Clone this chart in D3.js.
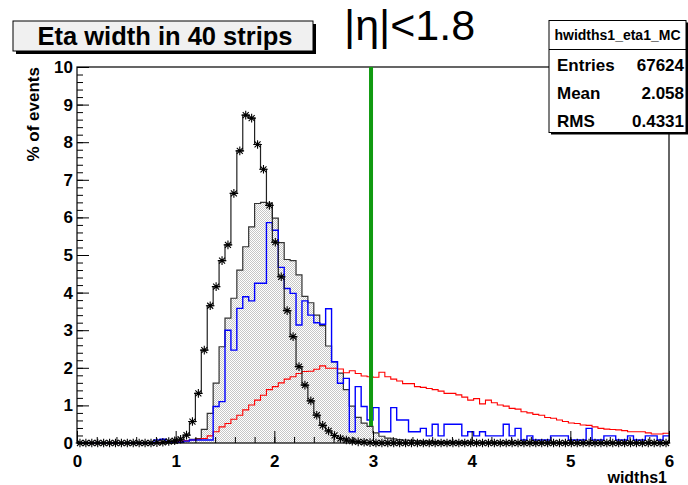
<!DOCTYPE html>
<html><head><meta charset="utf-8">
<script src="https://cdn.jsdelivr.net/npm/d3@7/dist/d3.min.js"></script>
<style>
body{margin:0;background:#fff}
svg{display:block}
text{font-family:"Liberation Sans",Arial,Helvetica,sans-serif}
</style>
</head><body>
<svg id="c" width="688" height="485"></svg>
<script>
// ---- histogram data: 100 bins of width 0.06 over [0, 6], values in % of events
const binWidth = 0.06;
const xDomain = [0, 6];
const yDomain = [0, 10];
const xMajorTicks = [0, 1, 2, 3, 4, 5, 6];
const yMajorTicks = [0, 1, 2, 3, 4, 5, 6, 7, 8, 9, 10];

// black histogram drawn with star markers
const starValues = [
  0,0,0,0,0,0,0,0,0,0,
  0,0,0,0.01,0.02,0.04,0.06,0.1,0.21,0.57,
  1.32,2.47,3.65,4.16,4.85,5.27,6.64,7.77,8.72,8.64,
  7.94,7.28,6.32,5.34,4.42,3.52,2.83,2.03,1.54,1.12,
  0.74,0.47,0.32,0.2,0.12,0.08,0.05,0.03,0.02,0.01,
  0,0,0,0,0,0,0,0,0,0,
  0,0,0,0,0,0,0,0,0,0,
  0,0,0,0,0,0,0,0,0,0,
  0,0,0,0,0,0,0,0,0,0,
  0,0,0,0,0,0,0,0,0,0
];
// grey hatched histogram (hwidths1_eta1_MC)
const mcValues = [
  0,0,0,0,0,0,0,0,0,0,
  0,0,0,0,0,0,0,0.03,0.06,0.1,
  0.12,0.36,0.79,1.59,2.56,3.32,3.85,4.6,5.22,5.75,
  6.37,6.4,6.38,5.98,5.33,4.88,4.85,4.47,3.9,3.73,
  3.4,3.12,2.58,2.16,1.86,1.42,0.98,0.68,0.53,0.44,
  0.27,0.18,0.13,0.11,0.09,0.08,0.07,0.06,0.05,0.05,
  0.04,0.03,0.03,0.03,0.03,0.03,0.02,0.02,0.02,0.02,
  0.02,0.02,0.02,0.02,0.02,0.02,0.02,0.02,0.02,0.02,
  0.02,0.01,0.01,0.01,0.01,0.01,0.01,0.01,0.01,0.01,
  0.01,0.01,0.01,0.01,0.01,0.01,0.01,0.01,0.01,0.01
];
// blue histogram
const blueValues = [
  0,0,0,0,0,0,0,0,0,0,
  0,0,0,0.08,0.1,0.03,0.02,0.02,0.05,0.08,
  0.08,0.08,0.08,0.97,1.1,3.0,2.47,3.58,3.89,3.78,
  4.25,4.25,5.86,5.66,4.67,4.11,3.98,3.14,3.78,3.4,
  3.2,3.16,3.57,2.16,1.59,1.72,0.3,1.5,0.97,0.61,
  0.94,0.3,0.3,0.94,0.61,0.61,0.3,0.3,0.39,0.19,
  0.5,0.19,0.5,0.5,0.5,0.19,0.3,0.19,0.3,0.19,
  0.19,0.19,0.5,0.19,0.39,0.08,0.19,0.08,0.08,0.08,
  0.19,0.19,0.19,0.08,0.08,0.08,0.39,0.08,0.08,0.19,
  0.19,0.08,0.08,0.19,0.08,0.08,0.19,0.19,0.08,0.19
];
// red histogram
const redValues = [
  0,0,0,0,0,0,0,0,0,0,
  0,0,0,0,0.02,0.03,0.04,0.05,0.06,0.08,
  0.1,0.12,0.19,0.3,0.43,0.52,0.63,0.74,0.88,1.01,
  1.14,1.27,1.42,1.5,1.6,1.7,1.76,1.85,1.9,1.91,
  1.96,2.05,1.99,1.99,1.97,1.87,1.92,1.85,1.78,1.76,
  1.75,1.88,1.76,1.7,1.65,1.58,1.58,1.5,1.48,1.45,
  1.42,1.38,1.32,1.32,1.28,1.22,1.14,1.18,1.04,1.14,
  1.07,1.01,0.98,0.92,0.9,0.83,0.8,0.76,0.74,0.68,
  0.66,0.61,0.57,0.53,0.52,0.48,0.47,0.43,0.39,0.37,
  0.36,0.35,0.33,0.3,0.3,0.3,0.27,0.24,0.24,0.26
];

// vertical cut line
const cutX = 2.98;
const cutRange = [0.45, 10];

const titleText = "Eta width in 40 strips";
const regionText = "|\u03b7|<1.8";
const statsName = "hwidths1_eta1_MC";
const statsLabels = ["Entries", "Mean", "RMS"];
const statsValues = ["67624", "2.058", "0.4331"];
const xTitle = "widths1";
const yTitle = "% of events";

// ---- layout
const frame = {left: 77, right: 669, top: 67, bottom: 443};
const svg = d3.select("#c");

const x = d3.scaleLinear().domain(xDomain).range([frame.left, frame.right]);
const y = d3.scaleLinear().domain(yDomain).range([frame.bottom, frame.top]);

// dotted fill pattern for the grey histogram
const defs = svg.append("defs");
const pat = defs.append("pattern").attr("id", "dots")
  .attr("patternUnits", "userSpaceOnUse").attr("width", 2).attr("height", 2);
pat.append("rect").attr("width", 2).attr("height", 2).attr("fill", "#fff");
pat.append("rect").attr("x", 0).attr("y", 0).attr("width", 1).attr("height", 1).attr("fill", "#c6c6c6");
pat.append("rect").attr("x", 1).attr("y", 1).attr("width", 1).attr("height", 1).attr("fill", "#c6c6c6");

function binPoints(vals) {
  const pts = vals.map((v, i) => ({x: i * binWidth, v}));
  pts.push({x: vals.length * binWidth, v: vals[vals.length - 1]});
  return pts;
}
const stepLine = d3.line().x(d => x(d.x)).y(d => y(d.v)).curve(d3.curveStepAfter);
const stepArea = d3.area().x(d => x(d.x)).y0(y(0)).y1(d => y(d.v)).curve(d3.curveStepAfter);

const plot = svg.append("g");

// grey filled histogram
plot.append("path").datum(binPoints(mcValues))
  .attr("d", stepArea).attr("fill", "url(#dots)");
plot.append("path").datum(binPoints(mcValues))
  .attr("d", stepLine).attr("fill", "none").attr("stroke", "#333").attr("stroke-width", 1.2);

// red and blue histograms
plot.append("path").datum(binPoints(redValues))
  .attr("d", stepLine).attr("fill", "none").attr("stroke", "#ff0000").attr("stroke-width", 1.1);
plot.append("path").datum(binPoints(blueValues))
  .attr("d", stepLine).attr("fill", "none").attr("stroke", "#0000ff").attr("stroke-width", 1.4);

// star histogram: step line plus asterisk markers at bin centres
plot.append("path").datum(binPoints(starValues))
  .attr("d", stepLine).attr("fill", "none").attr("stroke", "#222").attr("stroke-width", 1.2);
const star = "M-4.3,0H4.3M0,-4.3V4.3M-3,-3L3,3M-3,3L3,-3";
plot.selectAll("path.star").data(starValues).enter().append("path")
  .attr("class", "star")
  .attr("transform", (v, i) => `translate(${x((i + 0.5) * binWidth)},${y(v)})`)
  .attr("d", star).attr("stroke", "#000").attr("stroke-width", 1.1).attr("fill", "none");

// axes with ticks pointing into the frame
const fontAxis = "bold 17px 'Liberation Sans', Arial, sans-serif";
const xMinor = d3.range(0, 6.0001, 0.2);
const yMinor = d3.range(0, 10.0001, 0.2);

svg.append("g").attr("transform", `translate(0,${frame.bottom})`)
  .call(d3.axisBottom(x).tickValues(xMinor).tickSize(-6).tickFormat(""))
  .call(g => g.select(".domain").remove())
  .call(g => g.selectAll("line").attr("stroke", "#000"));
svg.append("g").attr("transform", `translate(0,${frame.bottom})`)
  .call(d3.axisBottom(x).tickValues(xMajorTicks).tickSize(-12).tickPadding(12).tickFormat(d3.format("d")))
  .call(g => g.select(".domain").remove())
  .call(g => g.selectAll("line").attr("stroke", "#000"))
  .call(g => g.selectAll("text").attr("fill", "#000").style("font", fontAxis));

svg.append("g").attr("transform", `translate(${frame.left},0)`)
  .call(d3.axisLeft(y).tickValues(yMinor).tickSize(-6).tickFormat(""))
  .call(g => g.select(".domain").remove())
  .call(g => g.selectAll("line").attr("stroke", "#000"));
svg.append("g").attr("transform", `translate(${frame.left},0)`)
  .call(d3.axisLeft(y).tickValues(yMajorTicks).tickSize(-12).tickPadding(4).tickFormat(d3.format("d")))
  .call(g => g.select(".domain").remove())
  .call(g => g.selectAll("line").attr("stroke", "#000"))
  .call(g => g.selectAll("text").attr("fill", "#000").style("font", fontAxis));

// frame
svg.append("rect").attr("x", frame.left).attr("y", frame.top)
  .attr("width", frame.right - frame.left).attr("height", frame.bottom - frame.top)
  .attr("fill", "none").attr("stroke", "#000").attr("stroke-width", 1.2);

// cut line
svg.append("line")
  .attr("x1", x(cutX)).attr("x2", x(cutX)).attr("y1", y(cutRange[0])).attr("y2", y(cutRange[1]))
  .attr("stroke", "#109a10").attr("stroke-width", 4);

// axis titles
svg.append("text").attr("x", 667).attr("y", 483)
  .attr("text-anchor", "end").style("font", "bold 16px 'Liberation Sans', Arial, sans-serif").text(xTitle);
svg.append("text").attr("transform", `translate(39,${frame.top}) rotate(-90)`)
  .attr("text-anchor", "end").style("font", fontAxis).text(yTitle);

// title box with shadow
svg.append("rect").attr("x", 16).attr("y", 24).attr("width", 300).attr("height", 30).attr("fill", "#000");
svg.append("rect").attr("x", 13).attr("y", 21).attr("width", 300).attr("height", 30)
  .attr("fill", "#f0f0f0").attr("stroke", "#000").attr("stroke-width", 1);
svg.append("text").attr("x", 165).attr("y", 45).attr("text-anchor", "middle")
  .style("font", "bold 25.5px 'Liberation Sans', Arial, sans-serif").text(titleText);

// region label
svg.append("text").attr("x", 344).attr("y", 40)
  .style("font", "43px 'Liberation Sans', Arial, sans-serif").text(regionText);

// statistics box
const sb = {x: 549, y: 20.5, w: 137, h: 112};
svg.append("rect").attr("x", sb.x + 2).attr("y", sb.y + 2).attr("width", sb.w).attr("height", sb.h).attr("fill", "#000");
svg.append("rect").attr("x", sb.x).attr("y", sb.y).attr("width", sb.w).attr("height", sb.h)
  .attr("fill", "#fff").attr("stroke", "#000").attr("stroke-width", 1);
svg.append("line").attr("x1", sb.x).attr("x2", sb.x + sb.w).attr("y1", 49.5).attr("y2", 49.5)
  .attr("stroke", "#000");
svg.append("text").attr("x", sb.x + sb.w / 2).attr("y", 40).attr("text-anchor", "middle")
  .style("font", "bold 14px 'Liberation Sans', Arial, sans-serif").text(statsName);
statsLabels.forEach((lab, i) => {
  const by = 71 + i * 28;
  svg.append("text").attr("x", 557).attr("y", by)
    .style("font", "bold 17px 'Liberation Sans', Arial, sans-serif").text(lab);
  svg.append("text").attr("x", 684).attr("y", by).attr("text-anchor", "end")
    .style("font", "bold 17px 'Liberation Sans', Arial, sans-serif").text(statsValues[i]);
});
</script>
</body></html>
